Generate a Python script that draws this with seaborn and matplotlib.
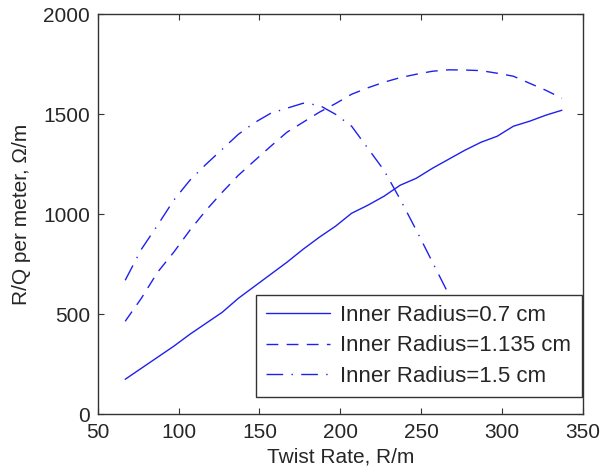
import numpy as np
import pandas as pd
import seaborn as sns
import matplotlib.pyplot as plt

# Twist rate grid (R/m) and R/Q per meter (Ohm/m)
twist_rate = [67, 77, 87, 97, 107, 117, 127, 137, 147, 157, 167, 177, 187, 197,
              207, 217, 227, 237, 247, 257, 267, 277, 287, 297, 307, 317, 327, 337]
rq_r07 = [175, 230, 285, 340, 400, 455, 510, 580, 640, 700, 760, 825, 885, 940,
          1005, 1045, 1090, 1145, 1180, 1230, 1275, 1320, 1360, 1390, 1440, 1465, 1495, 1520]
rq_r1135 = [465, 580, 710, 810, 920, 1020, 1110, 1195, 1268, 1340, 1410, 1460, 1510, 1553,
            1600, 1632, 1660, 1683, 1700, 1715, 1722, 1721, 1718, 1705, 1690, 1655, 1620, 1580]
# the 1.5 cm curve runs on under the legend box
twist_rate_r15 = [67, 77, 87, 97, 107, 117, 127, 137, 147, 157, 167, 177, 187, 197,
                  207, 217, 227, 237, 247, 257, 267, 277]
rq_r15 = [670, 825, 945, 1070, 1170, 1250, 1325, 1400, 1458, 1505, 1530, 1555, 1545, 1500,
          1440, 1330, 1220, 1075, 920, 760, 600, 440]

labels = ['Inner Radius=0.7 cm', 'Inner Radius=1.135 cm', 'Inner Radius=1.5 cm']

sns.set_style('ticks')
plt.rcParams['font.family'] = ['Liberation Sans', 'DejaVu Sans']
plt.rcParams['xtick.direction'] = 'in'
plt.rcParams['ytick.direction'] = 'in'

fig = plt.figure(figsize=(6.02, 4.74), dpi=100)
ax = fig.add_axes([0.1623, 0.126, 0.806, 0.844])

line_color = '#2020ee'
sns.lineplot(x=twist_rate, y=rq_r07, ax=ax, color=line_color, lw=1.0,
             linestyle='-', label=labels[0])
sns.lineplot(x=twist_rate, y=rq_r1135, ax=ax, color=line_color, lw=1.0,
             linestyle=(0, (8.5, 6)), label=labels[1])
sns.lineplot(x=twist_rate_r15, y=rq_r15, ax=ax, color=line_color, lw=1.0,
             linestyle=(0, (12, 6, 1, 6)), label=labels[2])

ax.set_xlim(50, 350)
ax.set_ylim(0, 2000)
ax.set_xticks(range(50, 351, 50))
ax.set_yticks(range(0, 2001, 500))
ax.tick_params(axis='both', labelsize=15, length=4, width=0.8, top=True, right=True,
               color='#333333')
ax.tick_params(axis='x', pad=6)
ax.tick_params(axis='y', pad=5.5)
for sp in ax.spines.values():
    sp.set_visible(True)
    sp.set_color('#333333')
    sp.set_linewidth(1.0)

ax.set_xlabel('Twist Rate, R/m', fontsize=15, labelpad=4)
ax.set_ylabel('R/Q per meter, \u03a9/m', fontsize=15, labelpad=9)

# legend box stretched to the MATLAB-style south-east box
leg = ax.legend(loc='lower left', bbox_to_anchor=(0.3256, 0.044, 0.672, 0.2525),
                mode='expand', borderaxespad=0,
                fontsize=16, frameon=True, fancybox=False, framealpha=1,
                edgecolor='#333333', handlelength=2.9, handletextpad=0.45,
                labelspacing=0.42, borderpad=0.45)
leg.get_frame().set_linewidth(1.0)

fig.savefig('out.png', dpi=100)
